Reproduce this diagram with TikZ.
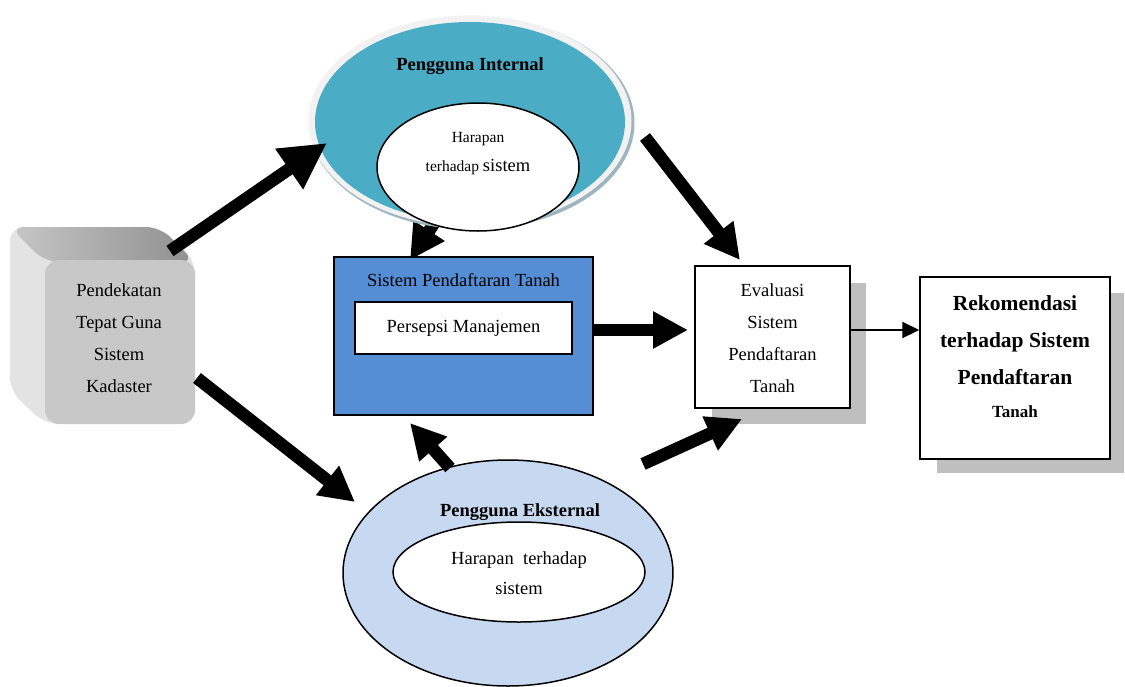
\documentclass[tikz,border=0pt]{standalone}
\usepackage{fontspec}
\setmainfont{Liberation Serif}
\usetikzlibrary{arrows.meta,shapes.geometric}
\definecolor{intblue}{HTML}{4BACC6}
\definecolor{sysblue}{HTML}{558ED5}
\definecolor{extblue}{HTML}{C6D9F1}
\definecolor{shadowgrey}{HTML}{BFBFBF}
\definecolor{ringc}{HTML}{F2F2F2}
\definecolor{ringshadow}{HTML}{9DB5BF}
\definecolor{cubefront}{HTML}{C8C8C8}
\newcommand\myfs[2]{\fontsize{#1}{#2}\selectfont}
\tikzset{
  fat/.style={line width=12.5pt,-{Triangle[length=35pt,width=35pt]}},
  fatbig/.style={line width=12.5pt,-{Triangle[length=46pt,width=46pt]}},
  thinarrow/.style={line width=2.2pt,-{Triangle[length=17pt,width=16pt]}},
  txt/.style={align=center,inner sep=0pt,text=black},
  boxed/.style={draw=black,inner sep=0pt},
  oval/.style={ellipse,inner sep=0pt}
}
\begin{document}
\begin{tikzpicture}[x=1pt,y=-1pt]
\useasboundingbox (0,0) rectangle (1125,686);

% ---- cube ----
\fill[rounded corners=14pt,color=black!11] (10,227) -- (160,227) -- (195,260) -- (195,424) -- (45,424) -- (10,391) -- cycle;
\shade[rounded corners=14pt,left color=black!22,right color=black!44] (10,227) -- (160,227) -- (195,262) -- (45,262) -- cycle;
\node[rounded corners=14pt,fill=cubefront,minimum width=150pt,minimum height=164pt,inner sep=0pt] (cube) at (120,342) {};
\node[txt,font=\myfs{18.5}{32}] (cubetxt) at (119,338) {Pendekatan\\Tepat Guna\\Sistem\\Kadaster};

% ---- coordinates for arrows ----
\coordinate (a1s) at (170,251); \coordinate (a1e) at (327,143);
\coordinate (a2s) at (197,378); \coordinate (a2e) at (355,502);
\coordinate (a3s) at (446,205); \coordinate (a3e) at (410,260);
\coordinate (a4s) at (645,137); \coordinate (a4e) at (740,260);
\coordinate (a5s) at (594,330); \coordinate (a5e) at (688,330);
\coordinate (a6s) at (450,468); \coordinate (a6e) at (410,423);
\coordinate (a7s) at (643,464); \coordinate (a7e) at (742,419);

% arrow hidden behind internal ellipse
\draw[fat] (a3s) -- (a3e);

% ---- Pengguna Internal ----
\node[oval,fill=ringshadow,minimum width=325pt,minimum height=213pt] (intshadow) at (472,123) {};
\node[oval,fill=ringc,minimum width=323pt,minimum height=211pt] (intring) at (470,121) {};
\node[oval,fill=intblue,minimum width=310pt,minimum height=200pt] (internal) at (470,122) {};
\node[oval,draw=black,line width=1.5pt,fill=white,minimum width=202pt,minimum height=128pt] (intinner) at (478,167) {};
\node[txt,font=\myfs{18.5}{22}\bfseries] (inttitle) at (470,66) {Pengguna Internal};
\node[txt,font=\myfs{15.5}{29}] (inttxt) at (478,154) {Harapan\\terhadap {\myfs{18.5}{29}sistem}};

% ---- Sistem Pendaftaran Tanah ----
\node[boxed,line width=2pt,fill=sysblue,minimum width=259pt,minimum height=158pt] (sistem) at (463.5,336) {};
\node[txt,font=\myfs{18.5}{22}] (sistitle) at (463.5,280) {Sistem Pendaftaran Tanah};
\node[boxed,line width=1.5pt,fill=white,minimum width=217pt,minimum height=52pt,font=\myfs{18.5}{22}] (persepsi) at (463.5,328) {Persepsi Manajemen};

% ---- Evaluasi ----
\fill[shadowgrey] (712,283) rectangle (866,424);
\node[boxed,line width=1.5pt,fill=white,minimum width=155pt,minimum height=142pt] (eval) at (772.5,337) {};
\node[txt,font=\myfs{18.5}{32}] (evaltxt) at (772.5,338.5) {Evaluasi\\Sistem\\Pendaftaran\\Tanah};

% ---- Rekomendasi ----
\fill[shadowgrey] (937,293) rectangle (1124,473);
\node[boxed,line width=1.5pt,fill=white,minimum width=190pt,minimum height=182pt] (rek) at (1015,368) {};
\node[txt,font=\myfs{21.5}{37}\bfseries] (rektxt) at (1015,357) {Rekomendasi\\terhadap Sistem\\Pendaftaran\\[-4pt]{\myfs{17}{37}Tanah}};

% ---- Pengguna Eksternal ----
\node[oval,draw=black,line width=1.5pt,fill=extblue,minimum width=330pt,minimum height=226pt] (external) at (508,573) {};
\node[oval,draw=black,line width=1.5pt,fill=white,minimum width=252pt,minimum height=100pt] (extinner) at (519,572) {};
\node[txt,font=\myfs{18.5}{22}\bfseries] (exttitle) at (520,512) {Pengguna Eksternal};
\node[txt,font=\myfs{18.5}{30}] (exttxt) at (519,573) {Harapan\ \ terhadap\\sistem};

% ---- arrows ----
\draw[fatbig] (a1s) -- (a1e);
\draw[fat] (a2s) -- (a2e);
\draw[fat] (a4s) -- (a4e);
\draw[fat] (a5s) -- (a5e);
\draw[fat] (a6s) -- (a6e);
\draw[fat] (a7s) -- (a7e);
\coordinate (t1) at ([yshift=7pt]eval.east);
\draw[thinarrow] (t1) -- (t1 -| rek.west);
\end{tikzpicture}
\end{document}
